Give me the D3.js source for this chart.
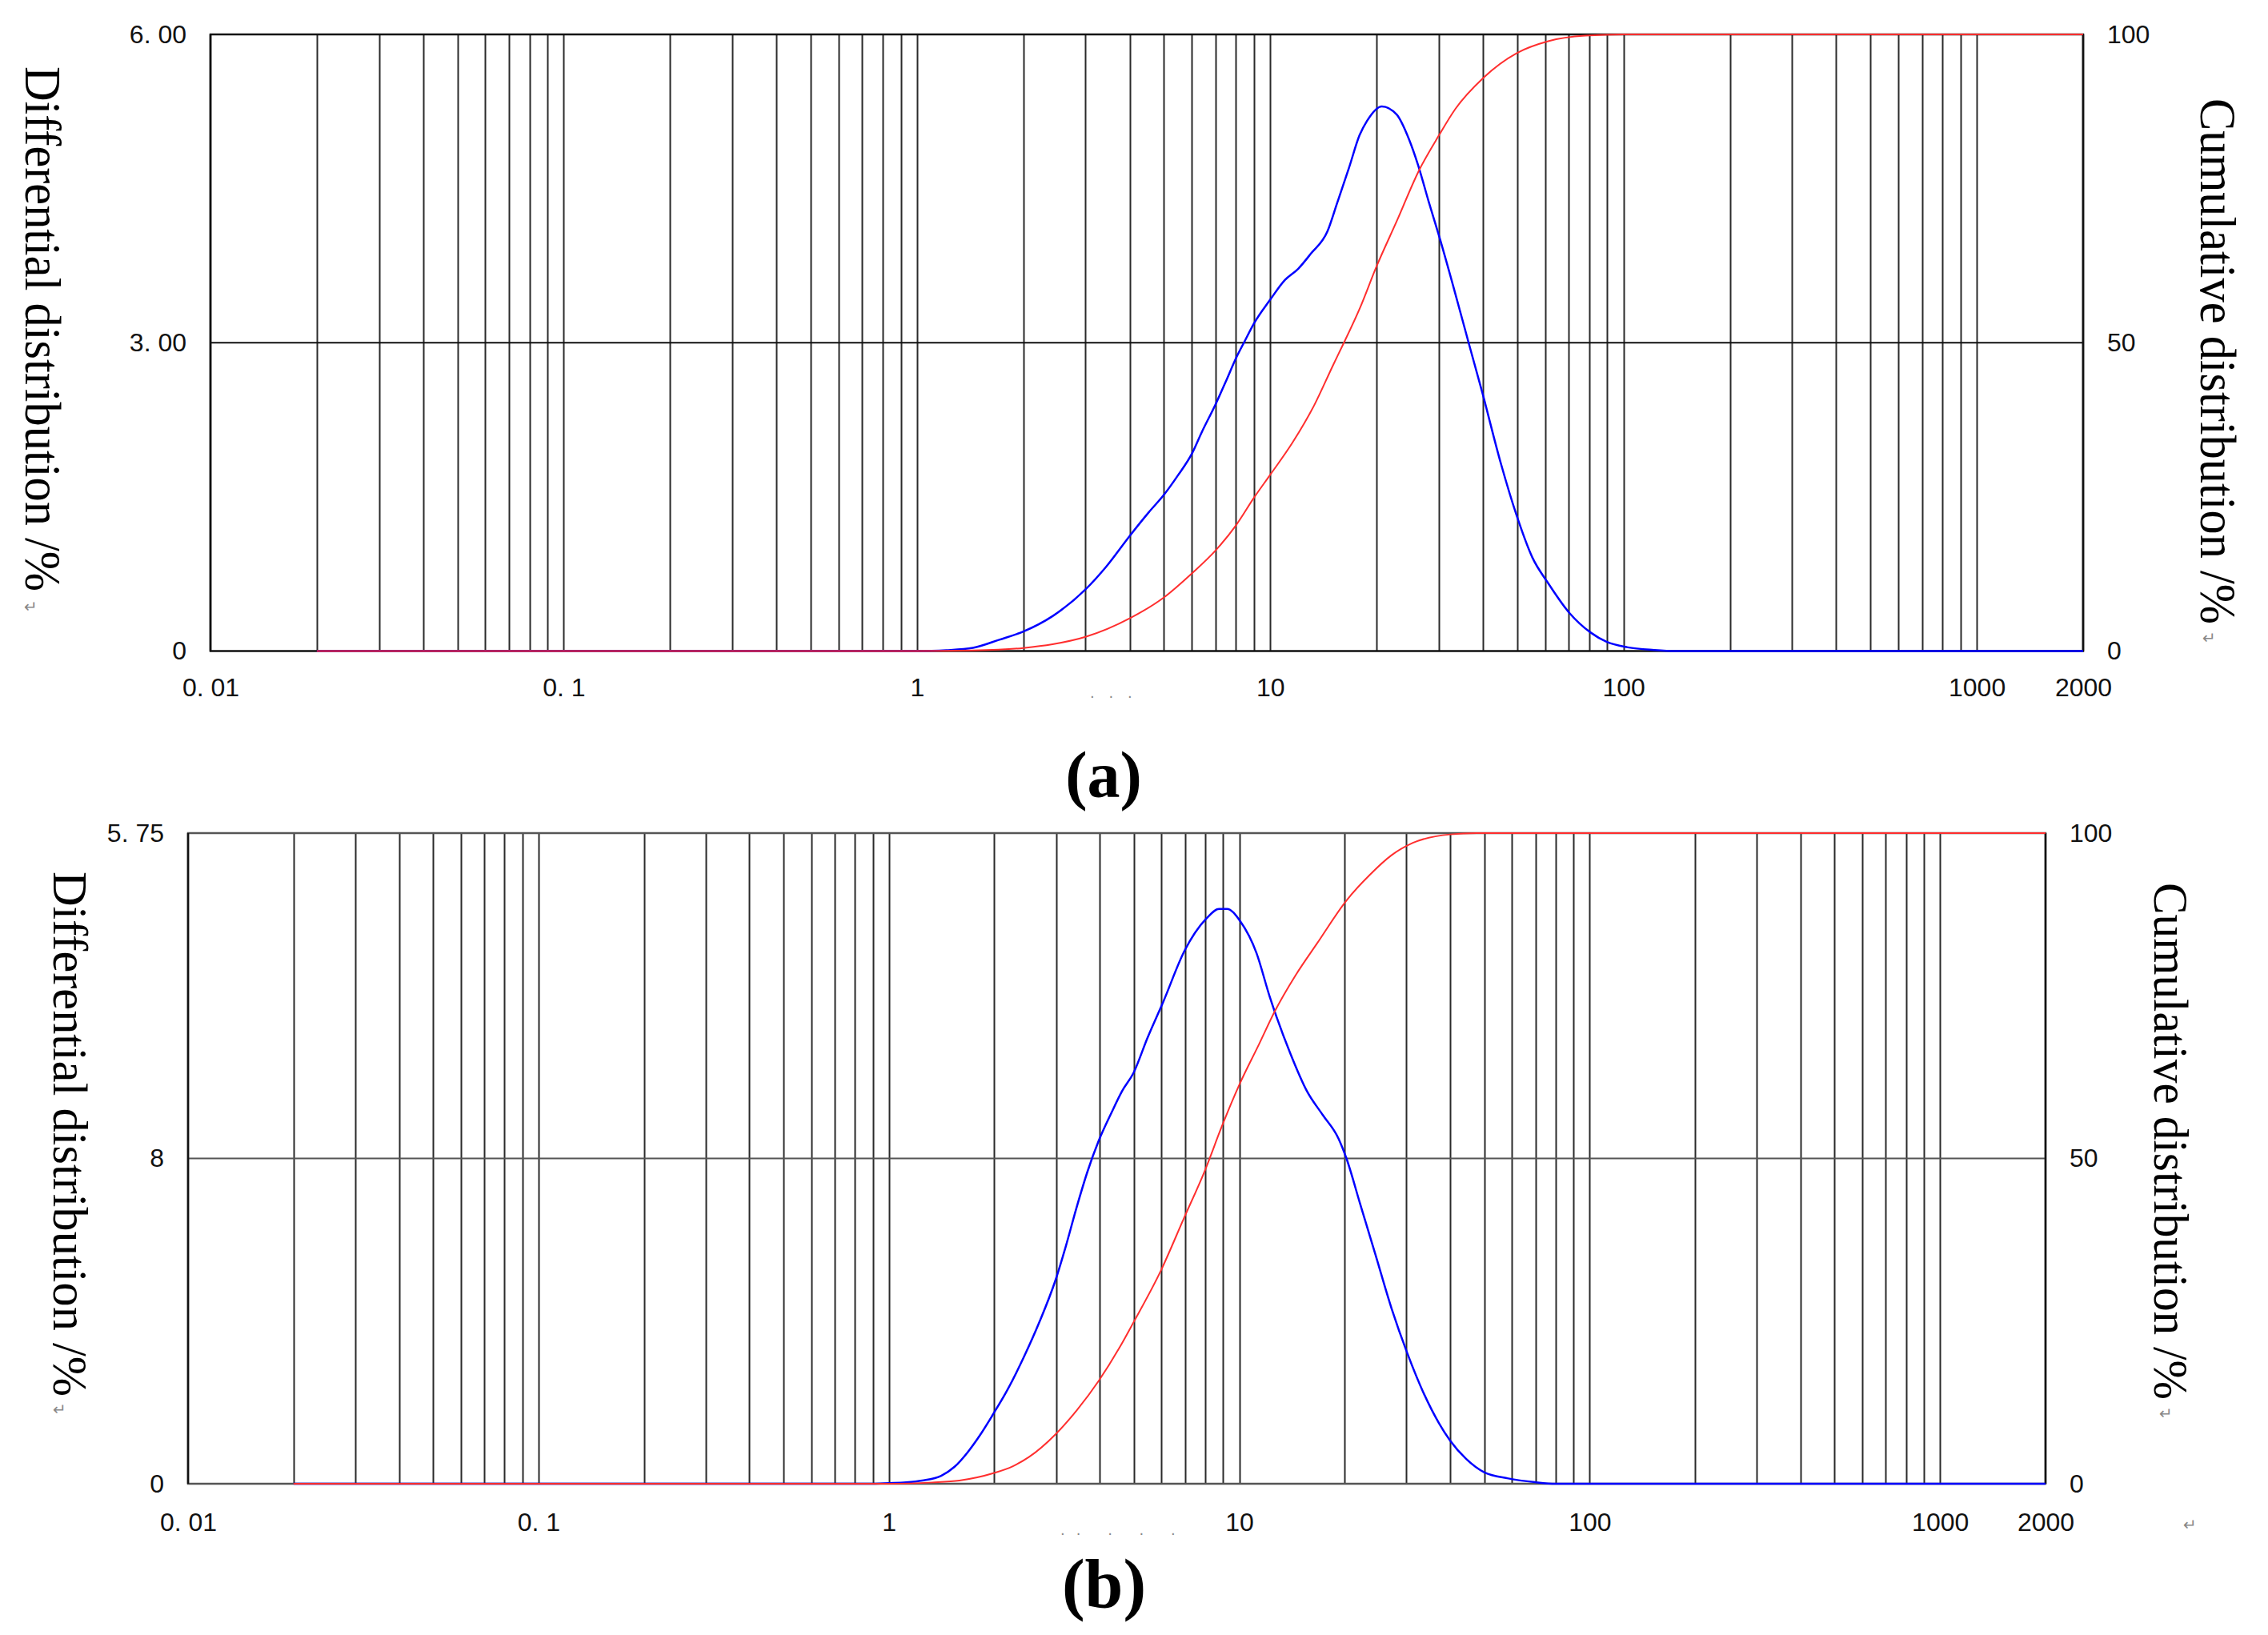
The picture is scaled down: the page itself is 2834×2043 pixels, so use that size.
<!DOCTYPE html>
<html>
<head>
<meta charset="utf-8">
<script src="https://cdn.jsdelivr.net/npm/d3@7"></script>
<style>
  body { margin: 0; background: #fff; }
  svg { display: block; }
  .tick text { font-family: "Liberation Sans", Arial, sans-serif; font-size: 32px; fill: #111; }
  .title { font-family: "Liberation Serif", "Times New Roman", serif; fill: #000; }
  .mark { font-family: "DejaVu Sans", sans-serif; fill: #888; }
</style>
</head>
<body>
<svg id="chart" width="2834" height="2043"></svg>
<script>
// particle size axis, shared by both panels
var sizeTicks = [0.01, 0.1, 1, 10, 100, 1000, 2000];
var sizeTickLabels = ['0. 01', '0. 1', '1', '10', '100', '1000', '2000'];
var cumTicks = [0, 50, 100];
var cumTickLabels = ['0', '50', '100'];

// panel (a)
var aDiffTicks = [0, 3, 6];
var aDiffTickLabels = ['0', '3. 00', '6. 00'];
var aDiffSize  = [0.02, 1.0, 1.10, 1.21, 1.44, 1.71, 2.0, 2.42, 3.0, 3.43, 4.0, 4.53, 5.0, 5.48, 6.0, 6.40, 7.0, 7.48, 8.0, 8.45, 9.0, 10, 11.0, 12.0, 13.05, 14.5, 15.5, 16.7, 17.9, 18.8, 20.7, 22.8, 24.7, 26.2, 28.1, 30.1, 32.9, 36.5, 39.8, 45, 49.7, 55.2, 61.2, 70.3, 80.7, 89.5, 102.8, 122, 140, 2000];
var aDiffValue = [0, 0, 0.002, 0.008, 0.031, 0.11, 0.19, 0.34, 0.60, 0.82, 1.12, 1.35, 1.52, 1.71, 1.92, 2.13, 2.40, 2.62, 2.85, 3.01, 3.19, 3.42, 3.61, 3.72, 3.87, 4.08, 4.37, 4.70, 5.02, 5.16, 5.30, 5.22, 4.98, 4.73, 4.37, 4.03, 3.56, 2.99, 2.52, 1.82, 1.33, 0.91, 0.66, 0.37, 0.18, 0.09, 0.036, 0.01, 0, 0];
var aCumSize  = [0.02, 1.0, 1.44, 2.0, 2.42, 3.0, 4.0, 5.0, 6.0, 7.0, 8.0, 9.0, 10, 11.56, 13.3, 15.1, 16.1, 17.9, 20, 22.8, 26.4, 30, 33.4, 40, 50, 61.2, 78, 100, 2000];
var aCumValue = [0, 0, 0.1, 0.5, 1.1, 2.3, 5.3, 8.7, 12.6, 16.3, 20.4, 24.9, 28.6, 33.8, 39.8, 46.5, 49.8, 55.5, 62.4, 69.7, 78.0, 83.6, 87.9, 92.9, 97.0, 98.9, 99.8, 100, 100];

// panel (b)
var bDiffTicks = [0, 2.875, 5.75];
var bDiffTickLabels = ['0', '8', '5. 75'];
var bDiffSize  = [0.02, 0.9, 1.0, 1.12, 1.245, 1.41, 1.54, 1.68, 1.83, 1.98, 2.18, 2.42, 2.69, 2.99, 3.20, 3.44, 3.69, 3.97, 4.32, 4.63, 4.99, 5.47, 6.07, 6.98, 8.03, 8.76, 9.23, 10.07, 11.2, 12.2, 14.0, 15.6, 17.3, 19.2, 20.2, 22.1, 24.5, 27.2, 30.2, 33.6, 40.0, 44.4, 50.1, 58.6, 69.8, 80, 2000];
var bDiffValue = [0, 0, 0.005, 0.012, 0.028, 0.07, 0.15, 0.28, 0.44, 0.61, 0.83, 1.11, 1.43, 1.80, 2.10, 2.45, 2.76, 3.03, 3.28, 3.47, 3.63, 3.94, 4.26, 4.71, 4.99, 5.08, 5.08, 4.97, 4.69, 4.31, 3.80, 3.47, 3.26, 3.05, 2.88, 2.48, 2.02, 1.55, 1.15, 0.80, 0.38, 0.22, 0.10, 0.047, 0.014, 0, 0];
var bCumSize  = [0.02, 1.0, 1.33, 1.59, 1.98, 2.26, 2.51, 2.99, 3.44, 3.97, 4.55, 4.99, 5.98, 6.95, 7.96, 8.99, 10, 11.4, 12.6, 14.5, 16.7, 20.2, 23.6, 27.2, 31.3, 40, 47.6, 2000];
var bCumValue = [0, 0, 0.2, 0.5, 1.6, 2.7, 4.1, 7.6, 11.3, 15.8, 20.9, 24.8, 32.8, 40.8, 48.0, 55.4, 61.3, 67.6, 72.5, 78.2, 83.1, 89.6, 93.6, 96.6, 98.5, 99.8, 100, 100];

var svg = d3.select('#chart');
svg.append('rect').attr('width', 2834).attr('height', 2043).attr('fill', '#fff');

function drawPanel(p) {
  var g = svg.append('g');
  var x = d3.scaleLog().domain([0.01, 2000]).range([p.left, p.right]);
  var yDiff = d3.scaleLinear().domain([0, p.diffMax]).range([p.bottom, p.top]);
  var yCum = d3.scaleLinear().domain([0, 100]).range([p.bottom, p.top]);

  // vertical grid at 1..9 x 10^n
  var grid = x.ticks().filter(function(d) { return d > 0.0101 && d < 1999; });
  g.selectAll('line.vgrid').data(grid).enter().append('line')
    .attr('class', 'vgrid')
    .attr('x1', function(d) { return Math.round(x(d)) + 0.5; })
    .attr('x2', function(d) { return Math.round(x(d)) + 0.5; })
    .attr('y1', p.top).attr('y2', p.bottom)
    .attr('stroke', '#2a2a2a').attr('stroke-width', 2);

  // middle horizontal line
  g.append('line')
    .attr('x1', p.left).attr('x2', p.right)
    .attr('y1', yCum(50)).attr('y2', yCum(50))
    .attr('stroke', p.hColor).attr('stroke-width', 2);

  // frame
  g.append('rect')
    .attr('x', p.left).attr('y', p.top)
    .attr('width', p.right - p.left).attr('height', p.bottom - p.top)
    .attr('fill', 'none').attr('stroke', p.hColor).attr('stroke-width', 2.5);
  g.append('line').attr('x1', p.left).attr('x2', p.left).attr('y1', p.top).attr('y2', p.bottom)
    .attr('stroke', '#111').attr('stroke-width', 2.5);
  g.append('line').attr('x1', p.right).attr('x2', p.right).attr('y1', p.top).attr('y2', p.bottom)
    .attr('stroke', '#111').attr('stroke-width', 2.5);

  // curves: differential under cumulative
  var diffLine = d3.line()
    .x(function(d) { return x(d[0]); })
    .y(function(d) { return yDiff(d[1]); })
    .curve(d3.curveMonotoneX);
  var cumLine = d3.line()
    .x(function(d) { return x(d[0]); })
    .y(function(d) { return yCum(d[1]); })
    .curve(d3.curveMonotoneX);

  g.append('path').datum(d3.zip(p.diffSize, p.diffValue))
    .attr('d', diffLine).attr('fill', 'none')
    .attr('stroke', '#0000ff').attr('stroke-width', 2.5);
  g.append('path').datum(d3.zip(p.cumSize, p.cumValue))
    .attr('d', cumLine).attr('fill', 'none')
    .attr('stroke', '#ff2e2e').attr('stroke-width', 2);

  // axes
  var xAxis = d3.axisBottom(x).tickValues(sizeTicks)
    .tickFormat(function(d, i) { return sizeTickLabels[i]; })
    .tickSize(0).tickPadding(p.xPad);
  g.append('g').attr('transform', 'translate(0,' + p.bottom + ')').call(xAxis)
    .call(function(a) { a.select('.domain').remove(); });

  var leftAxis = d3.axisLeft(yDiff).tickValues(p.diffTicks)
    .tickFormat(function(d, i) { return p.diffTickLabels[i]; })
    .tickSize(0).tickPadding(30);
  g.append('g').attr('transform', 'translate(' + p.left + ',0)').call(leftAxis)
    .call(function(a) { a.select('.domain').remove(); });

  var rightAxis = d3.axisRight(yCum).tickValues(cumTicks)
    .tickFormat(function(d, i) { return cumTickLabels[i]; })
    .tickSize(0).tickPadding(30);
  g.append('g').attr('transform', 'translate(' + p.right + ',0)').call(rightAxis)
    .call(function(a) { a.select('.domain').remove(); });

  g.selectAll('.tick text').attr('font-family', null).attr('font-size', null);

  // rotated axis titles
  g.append('text').attr('class', 'title')
    .attr('transform', 'translate(' + p.leftTitle[0] + ',' + p.leftTitle[1] + ') rotate(90)')
    .attr('font-size', p.titleSize)
    .attr('textLength', p.leftTitle[2]).attr('lengthAdjust', 'spacingAndGlyphs')
    .text('Differential distribution /%');
  g.append('text').attr('class', 'title')
    .attr('transform', 'translate(' + p.rightTitle[0] + ',' + p.rightTitle[1] + ') rotate(90)')
    .attr('font-size', p.titleSize)
    .attr('textLength', p.rightTitle[2]).attr('lengthAdjust', 'spacingAndGlyphs')
    .text('Cumulative distribution /%');

  // paragraph marks left by the word processor
  p.marks.forEach(function(m) {
    g.append('text').attr('class', 'mark')
      .attr('x', m[0]).attr('y', m[1]).attr('font-size', 20)
      .text('\u21B5');
  });
  g.append('text').attr('class', 'mark')
    .attr('x', p.dots[0]).attr('y', p.dots[1])
    .attr('font-size', 18).attr('letter-spacing', p.dots[3])
    .text(p.dots[2]);

  // panel letter
  g.append('text').attr('class', 'title')
    .attr('x', (p.left + p.right) / 2 + p.letterShift).attr('y', p.letterY)
    .attr('text-anchor', 'middle').attr('font-size', p.letterSize)
    .attr('font-weight', 'bold')
    .text(p.letter);
}

drawPanel({
  left: 263, right: 2603, top: 43, bottom: 813.5,
  diffMax: 6, diffTicks: aDiffTicks, diffTickLabels: aDiffTickLabels,
  diffSize: aDiffSize, diffValue: aDiffValue,
  cumSize: aCumSize, cumValue: aCumValue,
  hColor: '#111', xPad: 34,
  titleSize: 64, leftTitle: [32, 83, 656], rightTitle: [2750, 123, 657],
  marks: [[30, 765], [2752, 804]],
  dots: [1362, 872, '. . .', 6],
  letter: '(a)', letterY: 996, letterSize: 82, letterShift: -54
});

drawPanel({
  left: 235, right: 2556, top: 1041, bottom: 1854,
  diffMax: 5.75, diffTicks: bDiffTicks, diffTickLabels: bDiffTickLabels,
  diffSize: bDiffSize, diffValue: bDiffValue,
  cumSize: bCumSize, cumValue: bCumValue,
  hColor: '#555', xPad: 36,
  titleSize: 61, leftTitle: [67, 1089, 656], rightTitle: [2692, 1103, 646],
  marks: [[66, 1768], [2698, 1773], [2728, 1912]],
  dots: [1325, 1918, '.. . . .', 14],
  letter: '(b)', letterY: 2008, letterSize: 86, letterShift: -16
});
</script>
</body>
</html>
